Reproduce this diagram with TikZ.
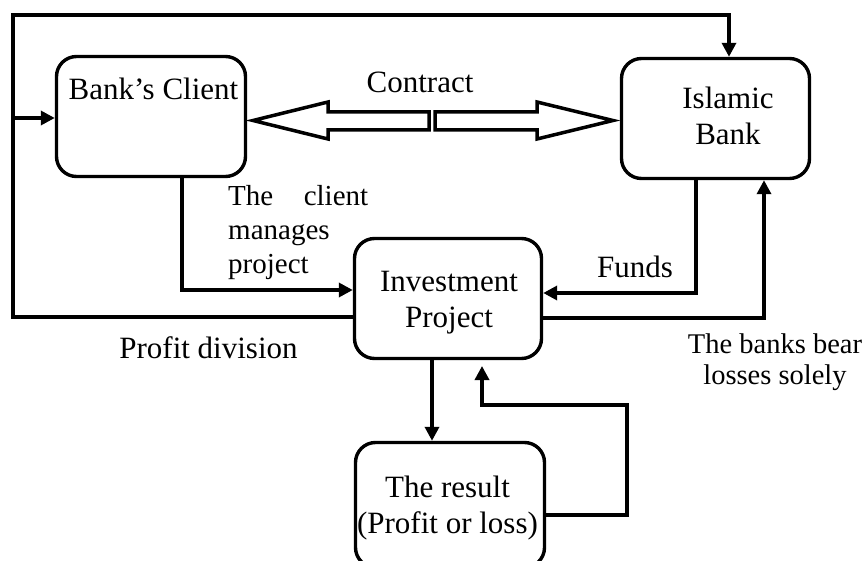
\documentclass[tikz,border=0pt]{standalone}
\usepackage{fontspec}
\setmainfont{Liberation Serif}
\usetikzlibrary{arrows.meta}
\begin{document}
\begin{tikzpicture}[x=1pt,y=-1pt,
  box/.style={draw, line width=3.4pt, rounded corners=20pt, inner sep=0pt},
  lbl/.style={inner sep=0pt, align=center, font=\fontsize{31}{36}\selectfont},
  line/.style={draw, line width=3.4pt},
  arr/.style={line, -{Triangle[length=14pt,width=14pt]}},
  bigarrow/.style={draw, line width=3.5pt, fill=white}]
\useasboundingbox (0,0) rectangle (866,561);
\clip (0,0) rectangle (866,561);

% boxes
\node[box, minimum width=189pt, minimum height=120pt] (client) at (151,116.5) {};
\node[box, minimum width=188pt, minimum height=120pt] (bank) at (715.5,118.5) {};
\node[box, minimum width=187pt, minimum height=120pt] (proj) at (448,298.5) {};
\node[box, minimum width=189pt, minimum height=125pt] (result) at (450,505) {};

% box texts
\node[lbl, anchor=base] (clienttxt) at (153.5,100) {Bank’s Client};
\node[lbl] (banktxt) at (728,116) {Islamic\\Bank};
\node[lbl] (projtxt) at (449,302.5) {Investment\\Project};
\node[lbl] (resulttxt) at (447.5,508.5) {The result\\(Profit or loss)};

% contract double arrow
\draw[bigarrow] (429,112) -- (328,112) -- (328,102) -- (253,120.5) -- (328,139) -- (328,130) -- (429,130) -- cycle;
\draw[bigarrow] (435,112) -- (537,112) -- (537,102) -- (613,120.5) -- (537,139) -- (537,130) -- (435,130) -- cycle;
\node[lbl, anchor=base] (contract) at (420,93) {Contract};

% outer loop: profit division back to both parties
\coordinate (cornerbl) at (13,317);
\coordinate (cornertl) at (13,15);
\coordinate (branch) at (13,118);
\draw[arr] (proj.west |- 0,317) -- (cornerbl) -- (cornertl) -- (729,15) -- (bank.north -| 729,0);
\draw[arr] (branch) -- (client.west |- 0,118);
\node[lbl, anchor=base] (profitdiv) at (208.5,358) {Profit division};

% client manages the project
\draw[arr] (client.south -| 182,0) -- (182,290) -- (proj.west |- 0,290);
\node[inner sep=0pt, anchor=north west, align=left, font=\fontsize{29}{34}\selectfont] (manages) at (228,185)
  {\hbox to 140pt{The\hfill client}\\manages\\project};

% funds from the bank
\draw[arr] (bank.south -| 696,0) -- (696,293) -- (proj.east |- 0,293);
\node[lbl, anchor=base] (funds) at (635,277) {Funds};

% losses borne by the bank
\draw[arr] (proj.east |- 0,318) -- (764,318) -- (bank.south -| 764,0);
\node[inner sep=0pt, align=center, font=\fontsize{28.5}{31}\selectfont] (losses) at (775,362)
  {The banks bear\\losses solely};

% result and feedback
\coordinate (loopend) at (482,366);
\draw[arr] (proj.south -| 432,0) -- (result.north -| 432,0);
\draw[arr] (result.east |- 0,515) -- (627,515) -- (627,405) -- (482,405) -- (loopend);
\end{tikzpicture}
\end{document}
